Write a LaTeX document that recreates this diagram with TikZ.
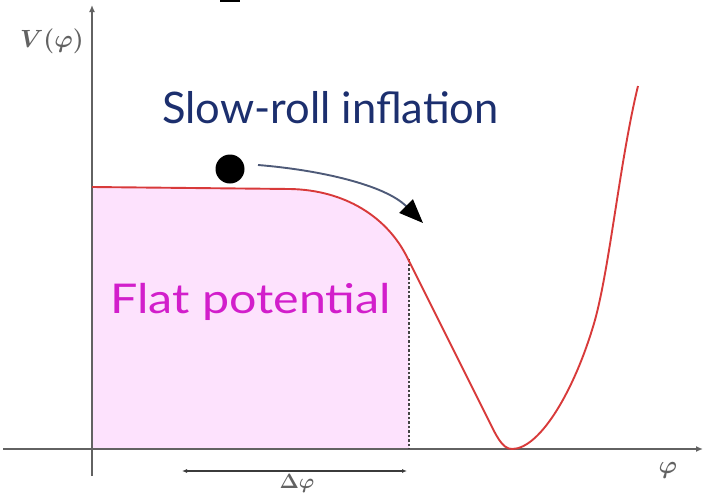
\documentclass[tikz,border=0pt]{standalone}
\usepackage{fontspec}
\newfontfamily\handfont{Lato}
\usetikzlibrary{arrows.meta}
\definecolor{curvered}{HTML}{D83A3A}
\definecolor{pinkfill}{HTML}{FDE2FD}
\definecolor{axisgray}{HTML}{626262}
\definecolor{navy}{HTML}{1C2F6E}
\definecolor{magentatext}{HTML}{D21ECB}
\definecolor{arrowslate}{HTML}{4E5A78}
\tikzset{
  axis/.style={draw=axisgray, line width=2.8pt, -{Latex[length=7pt,width=6pt]}},
  potential/.style={draw=curvered, line width=1.9pt},
  lbl/.style={inner sep=0pt, text=axisgray},
}
\def\leftpart{(92,187) -- (290,189) .. controls (345,190) and (387,217) .. (407,257)}
\begin{document}
\begin{tikzpicture}[x=1pt,y=-1pt]
\useasboundingbox (0,0) rectangle (705,498);
% pink flat region
\fill[pinkfill] (92,187) -- (290,189) .. controls (345,190) and (387,217) .. (407,257) -- (409,261) -- (409,448) -- (92,448) -- cycle;
% axes
\coordinate (yb) at (92,476);
\coordinate (yt) at (92,5);
\coordinate (xl) at (3,449);
\coordinate (xr) at (703,449);
\draw[axis] (yb) -- (yt);
\draw[axis] (xl) -- (xr);
% dashed marker
\coordinate (dtop) at (409,259);
\coordinate (dbot) at (409,449);
\draw[axisgray!70!black, line width=1.5pt, dash pattern=on 2.5pt off 2pt] (dtop) -- (dbot);
% potential curve
\draw[potential] (92,187) -- (290,189) .. controls (345,190) and (387,217) .. (407,257)
  -- (488,419) .. controls (496,435) and (502,449) .. (512,449)
  .. controls (540,449) and (575,390) .. (595,320)
  .. controls (610,265) and (620,160) .. (638,86);
% ball
\node[circle, fill=black, minimum size=29pt, inner sep=0pt] (ball) at (230,169) {};
% slow-roll arrow
\coordinate (as) at (258,165);
\coordinate (ae) at (423,223);
\draw[arrowslate, line width=1.9pt, -{Triangle[length=24pt,width=19pt,color=black,fill=black]}] (as) .. controls (320,170) and (385,185) .. (ae);
% labels
\node[lbl, font=\fontsize{23}{26}\selectfont\boldmath] (V) at (52,41) {$V(\varphi)$};
\node[lbl, font=\fontsize{23}{26}\selectfont\boldmath] (phi) at (668,470) {$\varphi$};
\node[lbl, font=\fontsize{21}{24}\selectfont\boldmath] (dphi) at (297,483) {$\Delta\varphi$};
\coordinate (dl) at (182,471);
\coordinate (dr) at (407,471);
\draw[axisgray!60!black, line width=1.3pt, {Latex[length=5pt,width=4pt]}-{Latex[length=5pt,width=4pt]}] (dl) -- (dr);
\node[inner sep=0pt, anchor=base west, text=navy, font=\handfont\fontsize{43.5}{50}\selectfont] (slow) at (162,123) {Slow-roll inflation};
\node[inner sep=0pt, anchor=base west, text=magentatext, font=\handfont\fontsize{41}{48}\selectfont] (flat) at (110,313) {\scalebox{1.18}[1]{Flat potential}};
% small top mark
\fill[black] (220,0) rectangle (240,1.5);
\end{tikzpicture}
\end{document}
